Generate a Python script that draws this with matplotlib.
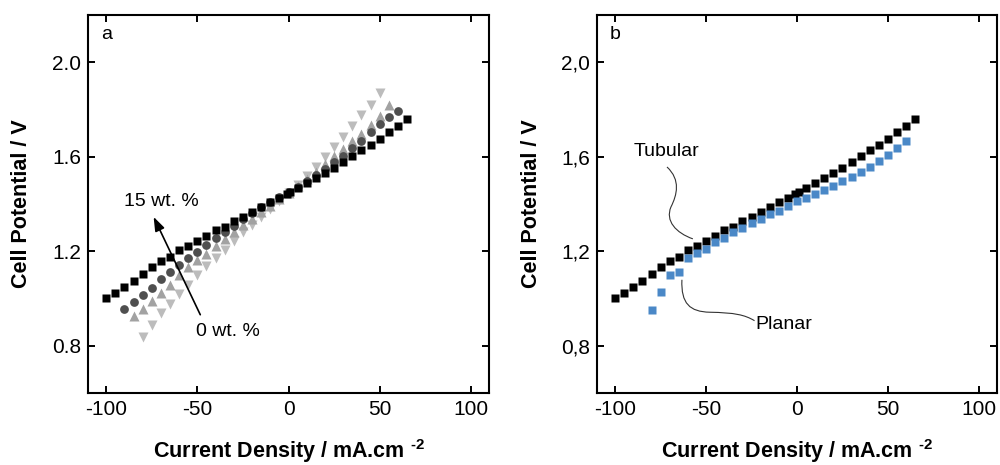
import matplotlib
matplotlib.use("Agg")
import matplotlib.pyplot as plt
from matplotlib.path import Path
from matplotlib.patches import PathPatch
from matplotlib.ticker import FuncFormatter

plt.rcParams['font.family'] = ['Liberation Sans', 'DejaVu Sans']
plt.rcParams['mathtext.fontset'] = 'custom'
plt.rcParams['mathtext.rm'] = 'Liberation Sans'
plt.rcParams['mathtext.bf'] = 'Liberation Sans:bold'
plt.rcParams['axes.unicode_minus'] = False

# ---- data ----
x_sq = [-100, -95, -90, -85, -80, -75, -70, -65, -60, -55, -50, -45, -40, -35, -30, -25,
        -20, -15, -10, -5, -1, 1, 5, 10, 15, 20, 25, 30, 35, 40, 45, 50, 55, 60, 65]
v_sq = [1.000, 1.023, 1.048, 1.073, 1.103, 1.131, 1.160, 1.176, 1.203, 1.221, 1.242, 1.266,
        1.289, 1.304, 1.328, 1.345, 1.367, 1.387, 1.408, 1.427, 1.443, 1.451, 1.469, 1.489,
        1.510, 1.531, 1.553, 1.576, 1.601, 1.627, 1.650, 1.676, 1.703, 1.729, 1.760]

x_ci = [-90, -85, -80, -75, -70, -65, -60, -55, -50, -45, -40, -35, -30, -25, -20, -15,
        -10, -5, 0, 5, 10, 15, 20, 25, 30, 35, 40, 45, 50, 55, 60]
v_ci = [0.955, 0.984, 1.015, 1.043, 1.084, 1.112, 1.141, 1.170, 1.198, 1.224, 1.255, 1.282,
        1.308, 1.334, 1.360, 1.385, 1.408, 1.430, 1.450, 1.472, 1.496, 1.522, 1.548, 1.576,
        1.604, 1.637, 1.667, 1.705, 1.738, 1.766, 1.794]

x_tu = [-85, -80, -75, -70, -65, -60, -55, -50, -45, -40, -35, -30, -25, -20, -15, -10,
        -5, 0, 5, 10, 15, 20, 25, 30, 35, 40, 45, 50, 55]
v_tu = [0.926, 0.954, 0.991, 1.025, 1.058, 1.097, 1.132, 1.163, 1.190, 1.222, 1.252, 1.282,
        1.310, 1.338, 1.365, 1.392, 1.420, 1.447, 1.475, 1.505, 1.536, 1.567, 1.601, 1.632,
        1.667, 1.696, 1.733, 1.770, 1.818]

x_td = [-80, -75, -70, -65, -60, -55, -50, -45, -40, -35, -30, -25, -20, -15, -10, -5,
        0, 5, 10, 15, 20, 25, 30, 35, 40, 45, 50]
v_td = [0.837, 0.886, 0.938, 0.975, 1.020, 1.055, 1.097, 1.137, 1.170, 1.204, 1.245, 1.283,
        1.312, 1.346, 1.379, 1.414, 1.446, 1.481, 1.518, 1.555, 1.597, 1.639, 1.684, 1.730,
        1.776, 1.818, 1.868]

x_pl = [-80, -75, -70, -65, -60, -55, -50, -45, -40, -35, -30, -25, -20, -15, -10, -5,
        0, 5, 10, 15, 20, 25, 30, 35, 40, 45, 50, 55, 60]
v_pl = [0.953, 1.027, 1.101, 1.110, 1.169, 1.192, 1.211, 1.238, 1.256, 1.279, 1.299, 1.318,
        1.338, 1.356, 1.369, 1.391, 1.411, 1.427, 1.443, 1.460, 1.477, 1.496, 1.515, 1.535,
        1.557, 1.582, 1.608, 1.637, 1.666]

x_ticks = [-100, -50, 0, 50, 100]
y_ticks = [0.8, 1.2, 1.6, 2.0]

fig = plt.figure(figsize=(10, 4.65), dpi=100)
axa = fig.add_axes([0.088, 0.155, 0.401, 0.813])
axb = fig.add_axes([0.597, 0.155, 0.400, 0.813])

for ax in (axa, axb):
    ax.set_xlim(-110, 110)
    ax.set_ylim(0.6, 2.2)
    ax.set_xticks(x_ticks)
    ax.set_yticks(y_ticks)
    ax.tick_params(direction='in', length=5, width=1.4, top=True, right=True,
                   labelsize=15, pad=5)
    for s in ax.spines.values():
        s.set_linewidth(1.5)
    ax.set_xlabel('Current Density / mA.cm $^{\\mathbf{\u2010}\\mathbf{2}}$', fontsize=15.5,
                  fontweight='bold', labelpad=13)
    ax.set_ylabel('Cell Potential / V', fontsize=15.5, fontweight='bold', labelpad=14)

axa.yaxis.set_major_formatter(FuncFormatter(lambda v, p: f'{v:.1f}'))
axb.yaxis.set_major_formatter(FuncFormatter(lambda v, p: f'{v:.1f}'.replace('.', ',')))

# panel a
axa.plot(x_td, v_td, linestyle='none', marker='v', ms=7.5, color='#bcbcbc', mec='none')
axa.plot(x_tu, v_tu, linestyle='none', marker='^', ms=7.5, color='#a2a2a2', mec='none')
axa.plot(x_ci, v_ci, linestyle='none', marker='o', ms=6.3, color='#4f4f4f', mec='none')
axa.plot(x_sq, v_sq, linestyle='none', marker='s', ms=6, color='black', mec='none')
axa.text(-103, 2.115, 'a', fontsize=14, va='center', ha='left')
axa.text(-90, 1.41, '15 wt. %', fontsize=14, va='center', ha='left')
axa.text(-51, 0.858, '0 wt. %', fontsize=14, va='center', ha='left')
axa.annotate('', xy=(-74, 1.345), xytext=(-48.4, 0.931),
             arrowprops=dict(arrowstyle='-|>,head_length=0.7,head_width=0.25',
                             color='black', lw=1.2,
                             mutation_scale=12, shrinkA=0, shrinkB=0))

# panel b
axb.plot(x_sq, v_sq, linestyle='none', marker='s', ms=6, color='black', mec='none')
axb.plot(x_pl, v_pl, linestyle='none', marker='s', ms=6, color='#4a88c7', mec='none')
axb.text(-103, 2.115, 'b', fontsize=14, va='center', ha='left')
axb.text(-90, 1.621, 'Tubular', fontsize=14, va='center', ha='left')
axb.text(-23, 0.889, 'Planar', fontsize=14, va='center', ha='left')


def px2d(px, py):
    return ((px - 797.7) / 1.828, 0.8 + (347 - py) / 236.7)


tub_px = [(667, 168), (681, 181), (677, 196), (671, 208),
          (665, 222), (676, 234), (693, 240)]
pla_px = [(682, 281), (681, 305), (690, 313), (710, 313.5),
          (735, 314), (745, 316), (755, 322)]
codes = [Path.MOVETO, Path.CURVE4, Path.CURVE4, Path.CURVE4,
         Path.CURVE4, Path.CURVE4, Path.CURVE4]
for pts in (tub_px, pla_px):
    verts = [px2d(*p) for p in pts]
    axb.add_patch(PathPatch(Path(verts, codes), facecolor='none',
                            edgecolor='#333333', lw=0.8))

fig.savefig('out.png', dpi=100)
